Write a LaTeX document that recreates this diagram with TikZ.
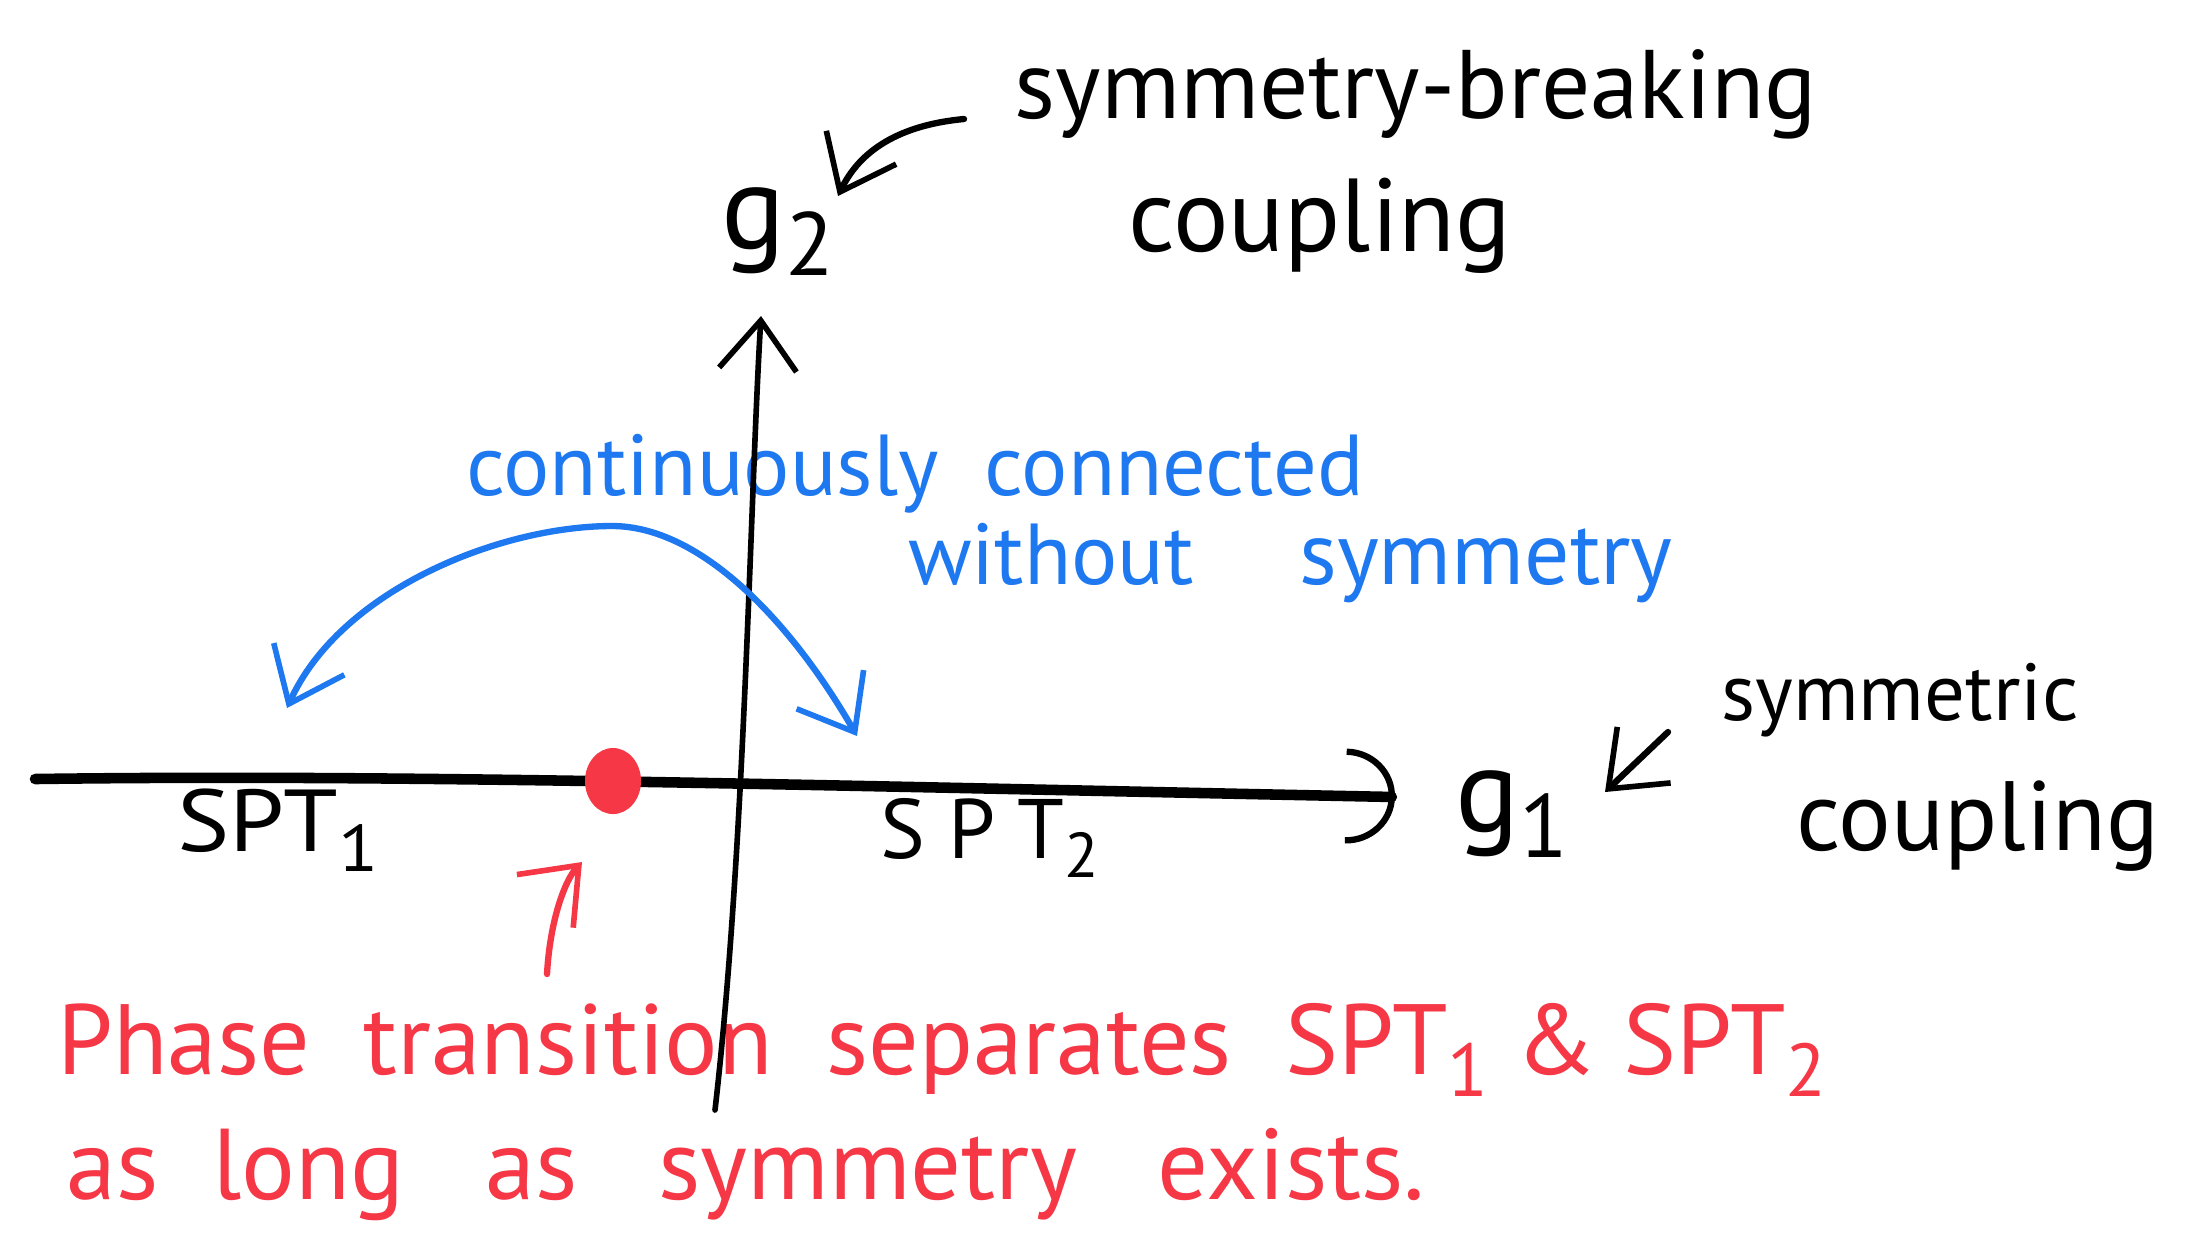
\documentclass[tikz,border=0pt]{standalone}
\usepackage{fontspec}
\setmainfont{PT Sans}
\usetikzlibrary{arrows.meta,shapes.geometric}
\definecolor{hblue}{RGB}{30,120,240}
\definecolor{hred}{RGB}{245,55,70}
\newcommand{\fs}[1]{\fontsize{#1}{1.2\dimexpr#1\relax}\selectfont}
\newcommand{\sub}[1]{\raisebox{-0.45ex}{\scalebox{0.75}{#1}}}
\tikzset{
  blk/.style={text=black, inner sep=0pt, anchor=center},
  bl/.style={text=hblue, inner sep=0pt, anchor=center},
  rd/.style={text=hred, inner sep=0pt, anchor=center},
  barb/.style={-{Straight Barb[length=14pt,width=22pt,line width=1.6pt]}},
  axis/.style={line width=1.8pt, line cap=round}
}
\begin{document}
\begin{tikzpicture}[x=0.01cm,y=-0.01cm]
\useasboundingbox (0,0) rectangle (2198,1250);
% labels
\node[blk,font=\fs{34pt}] (g2) at (778,232) {g\sub{2}};
\node[blk,font=\fs{27.7pt}] (sb1) at (1416,94) {symmetry-breaking};
\node[blk,font=\fs{29.5pt}] (sb2) at (1320,226) {coupling};
\node[blk,font=\fs{34pt}] (g1) at (1512,814) {g\sub{1}};
\node[blk,font=\fs{23pt}] (sy1) at (1900,700) {symmetric};
\node[blk,font=\fs{28pt}] (sy2) at (1978,826) {coupling};
\node[blk,font=\fs{25pt}] (spt1) at (278,830) {\scalebox{1.12}[1]{SPT\sub{1}}};
\node[blk,font=\fs{24pt}] (spt2) at (990,838) {S P T\sub{2}};
\node[bl,font=\fs{24.6pt}] (c1) at (915,474) {continuously\ \ connected};
\node[bl,font=\fs{24.6pt}] (c2) at (1051,554) {without};
\node[bl,font=\fs{25.5pt}] (c3) at (1486,566) {symmetry};
\node[rd,font=\fs{28.4pt}] (r1) at (942,1050) {Phase\ \ transition\ \ separates\ \ SPT\sub{1} \& SPT\sub{2}};
\node[rd,font=\fs{28.6pt}] (r2) at (746,1175) {as\ \ long\ \ \ as\ \ \ symmetry\ \ \ exists.};
% coordinates
\coordinate (hx0) at (35,779);
\coordinate (hx1) at (1395,797);
\coordinate (vy0) at (715,1110);
\coordinate (vy1) at (761,316);
\coordinate (ra0) at (547,974);
\coordinate (ra1) at (582,862);
\coordinate (ba0) at (964,119);
\coordinate (ba1) at (838,196);
\coordinate (ga0) at (1668,732);
\coordinate (ga1) at (1605,792);
\coordinate (bc0) at (287,708);
\coordinate (bc1) at (612,526);
\coordinate (bc2) at (857,736);
% axes
\draw[axis, line width=3pt, -{Arc Barb[length=14pt,width=27pt,line width=1.8pt]}] (hx0) .. controls (400,774) and (800,785) .. (hx1);
\draw[axis, line width=1.6pt, barb] (vy0) .. controls (745,850) and (750,500) .. (vy1);
\node[fill=hred, ellipse, minimum width=0.56cm, minimum height=0.66cm, inner sep=0pt] (dot) at (613,781) {};
% arrows
\draw[line width=1.8pt, line cap=round, hred, barb] (ra0) .. controls (550,920) and (565,880) .. (ra1);
\draw[line width=1.8pt, line cap=round, barb] (ba0) .. controls (900,125) and (860,150) .. (ba1);
\draw[line width=1.8pt, line cap=round, barb] (ga0) -- (ga1);
\draw[line width=1.8pt, line cap=round, hblue, {Straight Barb[length=14pt,width=22pt,line width=1.6pt]}-{Straight Barb[length=14pt,width=22pt,line width=1.6pt]}]
  (bc0) .. controls (340,590) and (500,526) .. (bc1) .. controls (700,526) and (790,620) .. (bc2);
\end{tikzpicture}
\end{document}
